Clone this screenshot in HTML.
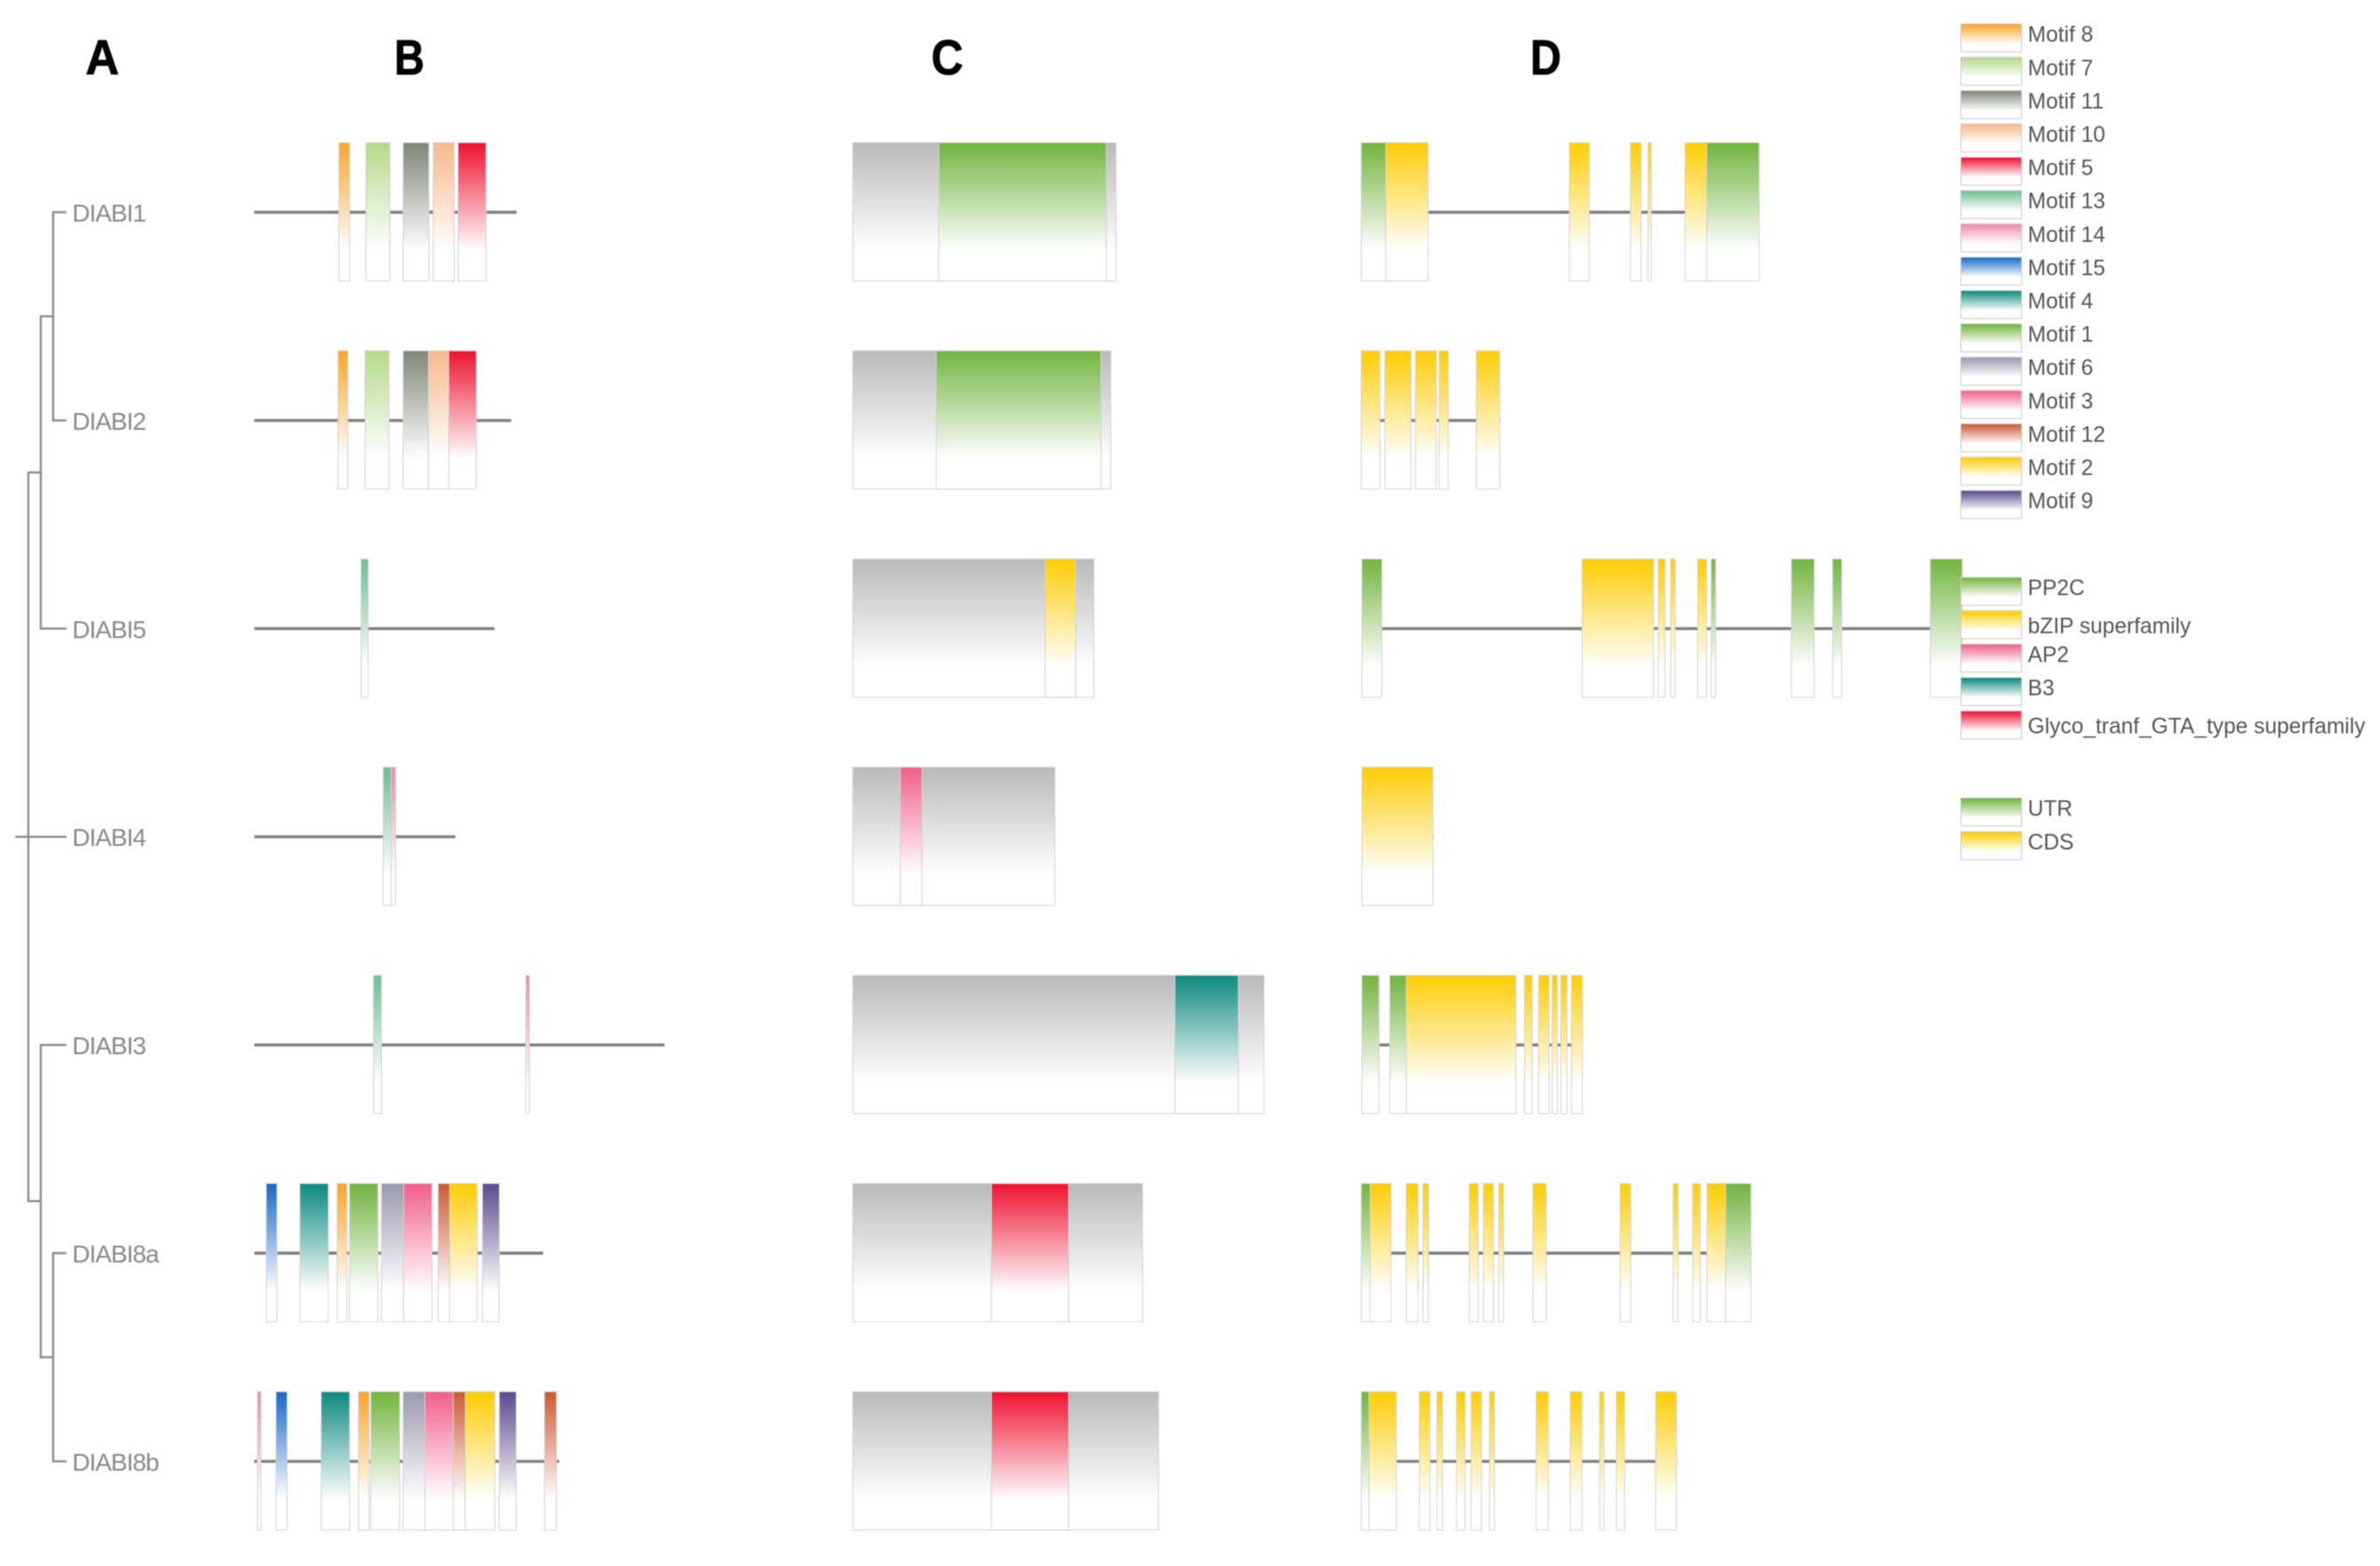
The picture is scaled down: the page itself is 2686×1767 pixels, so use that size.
<!DOCTYPE html>
<html lang="en">
<head>
<meta charset="utf-8">
<title>DIABI gene family: phylogeny, motifs, domains and gene structure</title>
<style>
  html, body { margin: 0; padding: 0; background: #fff; width: 2686px; height: 1767px; overflow: hidden; }
  svg { display: block; filter: blur(0.55px); }
  text { font-family: "Liberation Sans", sans-serif; }
  .panel-letter { font-size: 56px; font-weight: 700; fill: #000; text-anchor: middle; stroke: #000; stroke-width: 0.8px; }
  .gene-label { font-size: 28px; letter-spacing: -1px; fill: #8a8a8a; }
  .legend-label { font-size: 24.6px; fill: #555; }
</style>
</head>
<body>
<svg id="chart" xmlns="http://www.w3.org/2000/svg" width="2686" height="1767" viewBox="0 0 2686 1767">
  <defs id="gradients"></defs>
  <rect x="0" y="0" width="2686" height="1767" fill="#ffffff"></rect>
  <text class="panel-letter" x="115.5" y="84" textLength="38" lengthAdjust="spacingAndGlyphs">A</text>
  <text class="panel-letter" x="462" y="84" textLength="34" lengthAdjust="spacingAndGlyphs">B</text>
  <text class="panel-letter" x="1069" y="84" textLength="36" lengthAdjust="spacingAndGlyphs">C</text>
  <text class="panel-letter" x="1744.5" y="84" textLength="35" lengthAdjust="spacingAndGlyphs">D</text>
  <g id="tree"></g>
  <g id="labels"></g>
  <g id="motifs"></g>
  <g id="domains"></g>
  <g id="structures"></g>
  <g id="legend"></g>
</svg>
<script>
// ---------- categories ----------
const genes = ['DIABI1', 'DIABI2', 'DIABI5', 'DIABI4', 'DIABI3', 'DIABI8a', 'DIABI8b'];
// nested clades of gene indices
const cladeTree = [[[0, 1], 2], 3, [4, [5, 6]]];

// ---------- legend categories ----------
const motifNames = ['Motif 8', 'Motif 7', 'Motif 11', 'Motif 10', 'Motif 5', 'Motif 13', 'Motif 14', 'Motif 15', 'Motif 4', 'Motif 1', 'Motif 6', 'Motif 3', 'Motif 12', 'Motif 2', 'Motif 9'];
const domainNames = ['PP2C', 'bZIP superfamily', 'AP2', 'B3', 'Glyco_tranf_GTA_type superfamily'];
const structureNames = ['UTR', 'CDS'];

// ---------- series: protein lengths (aa) ----------
const proteinLengths = [592, 580, 542, 454, 926, 652, 688];

// ---------- series: motifs as [start aa, end aa, motif number] per gene ----------
const motifsABI1 = [[192, 214, 8], [253, 305, 7], [337, 393, 11], [405, 450, 10], [461, 522, 5]];
const motifsABI2 = [[190, 210, 8], [251, 303, 7], [337, 394, 11], [394, 440, 10], [440, 500, 5]];
const motifsABI5 = [[242, 256, 13]];
const motifsABI4 = [[292, 308, 13], [310, 318, 14]];
const motifsABI3 = [[270, 286, 13], [614, 620, 14]];
const motifsABI8a = [[28, 50, 15], [104, 166, 4], [188, 208, 8], [216, 278, 1], [288, 338, 6], [338, 400, 3], [416, 442, 12], [442, 502, 2], [516, 552, 9]];
const motifsABI8b = [[8, 14, 14], [50, 73, 15], [152, 214, 4], [236, 258, 8], [264, 327, 1], [337, 386, 6], [386, 450, 3], [450, 477, 12], [477, 542, 2], [554, 590, 9], [656, 681, 12]];
const motifSeries = [motifsABI1, motifsABI2, motifsABI5, motifsABI4, motifsABI3, motifsABI8a, motifsABI8b];

// ---------- series: conserved domains as [start aa, end aa, domain name] ----------
const domainSeries = [
  [194, 570, 'PP2C'],
  [188, 558, 'PP2C'],
  [434, 501, 'bZIP superfamily'],
  [107, 154, 'AP2'],
  [727, 868, 'B3'],
  [313, 485, 'Glyco_tranf_GTA_type superfamily'],
  [313, 485, 'Glyco_tranf_GTA_type superfamily']
];

// ---------- series: gene lengths (bp) ----------
const geneLengths = [4480, 1565, 6770, 810, 2490, 4400, 3560];

// ---------- series: exons as [start bp, end bp, feature] per gene ----------
const exonsABI1 = [[0, 276, 'UTR'], [276, 744, 'CDS'], [2349, 2562, 'CDS'], [3038, 3148, 'CDS'], [3237, 3262, 'CDS'], [3654, 3899, 'CDS'], [3899, 4480, 'UTR']];
const exonsABI2 = [[0, 200, 'CDS'], [266, 552, 'CDS'], [612, 837, 'CDS'], [879, 972, 'CDS'], [1299, 1552, 'CDS']];
const exonsABI5 = [[7, 222, 'UTR'], [2492, 3288, 'CDS'], [3351, 3418, 'CDS'], [3492, 3532, 'CDS'], [3797, 3886, 'CDS'], [3949, 3989, 'UTR'], [4855, 5101, 'UTR'], [5320, 5412, 'UTR'], [6422, 6772, 'UTR']];
const exonsABI4 = [[7, 797, 'CDS']];
const exonsABI3 = [[7, 190, 'UTR'], [322, 507, 'UTR'], [507, 1735, 'CDS'], [1842, 1918, 'CDS'], [2002, 2110, 'CDS'], [2154, 2202, 'CDS'], [2252, 2311, 'CDS'], [2372, 2485, 'CDS']];
const exonsABI8a = [[0, 100, 'UTR'], [100, 324, 'CDS'], [507, 631, 'CDS'], [696, 748, 'CDS'], [1219, 1309, 'CDS'], [1378, 1481, 'CDS'], [1553, 1595, 'CDS'], [1936, 2077, 'CDS'], [2921, 3031, 'CDS'], [3520, 3564, 'CDS'], [3740, 3816, 'CDS'], [3902, 4112, 'CDS'], [4112, 4388, 'UTR']];
const exonsABI8b = [[0, 87, 'UTR'], [87, 386, 'CDS'], [655, 765, 'CDS'], [854, 906, 'CDS'], [1075, 1161, 'CDS'], [1240, 1347, 'CDS'], [1447, 1492, 'CDS'], [1974, 2101, 'CDS'], [2359, 2480, 'CDS'], [2690, 2728, 'CDS'], [2879, 2962, 'CDS'], [3323, 3547, 'CDS']];
const exonSeries = [exonsABI1, exonsABI2, exonsABI5, exonsABI4, exonsABI3, exonsABI8a, exonsABI8b];

// ---------- colour keys ----------
const motifColors = { 8: '#f9a52b', 7: '#b5da8a', 11: '#7f8878', 10: '#f7b98c', 5: '#ee1230', 13: '#6dbe95', 14: '#ee8aa8', 15: '#1769c9', 4: '#0e8a7e', 1: '#72b53f', 6: '#9a9ab0', 3: '#f2608a', 12: '#cc5a35', 2: '#ffcd05', 9: '#5b4a8f' };
const domainColors = { 'PP2C': '#72b53f', 'bZIP superfamily': '#ffcd05', 'AP2': '#f2608a', 'B3': '#0e8a7e', 'Glyco_tranf_GTA_type superfamily': '#ee1230' };
const structureColors = { 'UTR': '#72b53f', 'CDS': '#ffcd05' };

// ---------- axis functions ----------
const rowY = i => 239.5 + 234.9 * i;
const xMotif = aa => 287 + aa * 0.5;
const xDomain = aa => 963 + aa * 0.5;
const xStructure = bp => 1536.8 + bp * 0.1;
const treeX = depth => 32 + depth * 14;
const BAND_UP = 78, BAND_DOWN = 77, LEAF_X = 75, ROOT_X = 17;

// ---------- drawing helpers ----------
const SVG_NS = 'http://www.w3.org/2000/svg';
const defs = document.getElementById('gradients');
const gradientCache = {};

function gradient(color, fadeEnd) {
  const id = 'g' + color.slice(1) + fadeEnd;
  if (!gradientCache[id]) {
    const lg = document.createElementNS(SVG_NS, 'linearGradient');
    lg.setAttribute('id', id);
    lg.setAttribute('x1', '0'); lg.setAttribute('y1', '0');
    lg.setAttribute('x2', '0'); lg.setAttribute('y2', '1');
    [[0, color], [fadeEnd, '#ffffff'], [100, '#ffffff']].forEach(s => {
      const stop = document.createElementNS(SVG_NS, 'stop');
      stop.setAttribute('offset', s[0] + '%');
      stop.setAttribute('stop-color', s[1]);
      lg.appendChild(stop);
    });
    defs.appendChild(lg);
    gradientCache[id] = true;
  }
  return 'url(#' + id + ')';
}

function band(parent, name, x0, x1, cy, color) {
  const el = document.createElementNS(SVG_NS, 'rect');
  
  
  el.setAttribute('x', x0);
  el.setAttribute('y', cy - BAND_UP);
  el.setAttribute('width', Math.max(x1 - x0, 1));
  el.setAttribute('height', BAND_UP + BAND_DOWN);
  el.setAttribute('fill', gradient(color, 78));
  el.setAttribute('stroke', '#d2d2d2');
  el.setAttribute('stroke-width', '2');
  el.setAttribute('paint-order', 'stroke');
  parent.appendChild(el);
  return el;
}

function segment(parent, name, x1, y1, x2, y2, color, width) {
  const el = document.createElementNS(SVG_NS, 'line');
  
  
  el.setAttribute('x1', x1);
  el.setAttribute('y1', y1);
  el.setAttribute('x2', x2);
  el.setAttribute('y2', y2);
  el.setAttribute('stroke', color);
  el.setAttribute('stroke-width', width);
  parent.appendChild(el);
  return el;
}

function label(parent, name, x, y, cls, str) {
  const el = document.createElementNS(SVG_NS, 'text');
  
  
  el.setAttribute('x', x);
  el.setAttribute('y', y);
  el.setAttribute('class', cls);
  el.textContent = str;
  parent.appendChild(el);
  return el;
}

const slug = s => s.toLowerCase().replace(/[^a-z0-9]+/g, '-');

// ---------- panel A: tree ----------
const treeGroup = document.getElementById('tree');
const TREE_COLOR = '#8f8f8f', TREE_W = 2.5;

function drawClade(node, depth) {
  if (typeof node === 'number') {
    return rowY(node);
  }
  const x = treeX(depth);
  const ys = node.map(child => {
    const y = drawClade(child, depth + 1);
    const endX = typeof child === 'number' ? LEAF_X : treeX(depth + 1);
    segment(treeGroup, 'tree-branch', x, y, endX, y, TREE_COLOR, TREE_W);
    return y;
  });
  const top = Math.min.apply(null, ys), bottom = Math.max.apply(null, ys);
  segment(treeGroup, 'tree-node', x, top - TREE_W / 2, x, bottom + TREE_W / 2, TREE_COLOR, TREE_W);
  return (top + bottom) / 2;
}
const rootY = drawClade(cladeTree, 0);
segment(treeGroup, 'tree-root', ROOT_X, rootY, treeX(0), rootY, TREE_COLOR, TREE_W);

// ---------- gene labels ----------
const labelGroup = document.getElementById('labels');
genes.forEach((g, i) => {
  label(labelGroup, 'gene-label-' + slug(g), 81.5, rowY(i) + 10.5, 'gene-label', g);
});

// ---------- panel B: motifs ----------
const motifGroup = document.getElementById('motifs');
motifSeries.forEach((list, i) => {
  segment(motifGroup, 'protein-line-' + slug(genes[i]), xMotif(0), rowY(i), xMotif(proteinLengths[i]), rowY(i), '#808080', 3.4);
  list.forEach(m => {
    band(motifGroup, 'motif-' + m[2] + '-' + slug(genes[i]), xMotif(m[0]), xMotif(m[1]), rowY(i), motifColors[m[2]]);
  });
});

// ---------- panel C: domains ----------
const domainGroup = document.getElementById('domains');
domainSeries.forEach((d, i) => {
  band(domainGroup, 'protein-body-' + slug(genes[i]), xDomain(0), xDomain(proteinLengths[i]), rowY(i), '#bababa');
  band(domainGroup, 'domain-' + slug(d[2]) + '-' + slug(genes[i]), xDomain(d[0]), xDomain(d[1]), rowY(i), domainColors[d[2]]);
});

// ---------- panel D: gene structure ----------
const structureGroup = document.getElementById('structures');
exonSeries.forEach((list, i) => {
  segment(structureGroup, 'intron-line-' + slug(genes[i]), xStructure(0), rowY(i), xStructure(geneLengths[i]), rowY(i), '#808080', 3.4);
  list.forEach(e => {
    band(structureGroup, slug(e[2]) + '-exon-' + slug(genes[i]), xStructure(e[0]), xStructure(e[1]), rowY(i), structureColors[e[2]]);
  });
});

// ---------- legends ----------
const legendGroup = document.getElementById('legend');

function legendEntry(name, color, top) {
  const swatch = document.createElementNS(SVG_NS, 'rect');
  
  
  swatch.setAttribute('x', 2213.5);
  swatch.setAttribute('y', top);
  swatch.setAttribute('width', 67.5);
  swatch.setAttribute('height', 30.5);
  swatch.setAttribute('fill', gradient(color, 72));
  swatch.setAttribute('stroke', '#c8c8c8');
  swatch.setAttribute('stroke-width', '2');
  swatch.setAttribute('paint-order', 'stroke');
  legendGroup.appendChild(swatch);
  const dy = /superfamily/.test(name) ? 24.8 : 19.6;
  label(legendGroup, 'legend-label-' + slug(name), 2288.5, top + dy, 'legend-label', name);
}

motifNames.forEach((name, i) => {
  const num = name.split(' ')[1];
  legendEntry(name, motifColors[num], 27.6 + 37.6 * i);
});
domainNames.forEach((name, i) => {
  legendEntry(name, domainColors[name], 652 + 37.7 * i);
});
structureNames.forEach((name, i) => {
  legendEntry(name, structureColors[name], 901 + 38 * i);
});
</script>
</body>
</html>
